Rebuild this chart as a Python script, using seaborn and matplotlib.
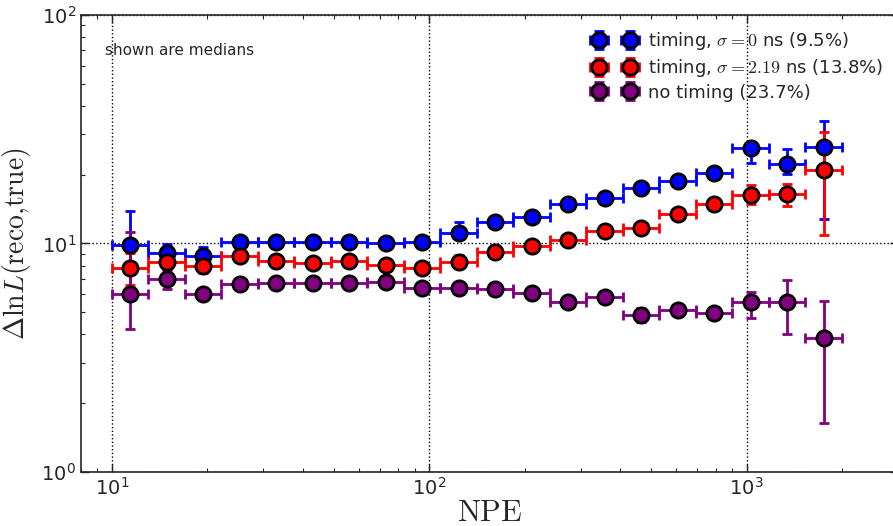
import matplotlib
matplotlib.use("Agg")
import matplotlib.pyplot as plt
import numpy as np
import seaborn as sns

# NPE bins (log spaced, 10 .. 2000)
npe_edges = [10, 13.03, 16.98, 22.13, 28.84, 37.58, 48.98, 63.83, 83.18, 108.4, 141.3,
             184.1, 239.9, 312.7, 407.5, 531.0, 692.0, 901.8, 1175, 1531, 1995]
npe_centers = [11.4, 14.9, 19.4, 25.3, 32.9, 42.9, 55.9, 72.9, 95.0, 123.8,
               161.3, 210.2, 273.9, 357.0, 465.2, 606.2, 790.0, 1029, 1341, 1748]

# timing, sigma = 0 ns
blue_med = [9.8, 9.06, 8.82, 10.1, 10.1, 10.1, 10.15, 10.0, 10.1, 11.1,
            12.4, 13.1, 14.9, 15.8, 17.5, 18.8, 20.3, 26.1, 22.3, 26.4]
blue_lo = [7.8, 8.5, 8.3, 9.8, 9.8, 9.8, 9.85, 9.7, 9.8, 10.6,
           11.8, 12.5, 14.2, 15.2, 16.7, 18.0, 19.5, 22.4, 20.1, 12.8]
blue_hi = [13.9, 9.95, 9.7, 10.4, 10.4, 10.4, 10.45, 10.3, 10.4, 12.4,
           13.0, 13.7, 15.6, 16.4, 18.4, 19.6, 21.1, 27.0, 25.9, 34.5]

# timing, sigma = 2.19 ns
red_med = [7.79, 8.3, 7.94, 8.82, 8.36, 8.22, 8.36, 8.08, 7.84, 8.33,
           9.15, 9.75, 10.36, 11.38, 11.73, 13.4, 14.9, 16.3, 16.4, 21.0]
red_lo = [6.6, 7.6, 7.4, 8.5, 8.1, 7.95, 8.1, 7.8, 7.6, 7.95,
          8.6, 9.4, 10.0, 11.0, 11.3, 12.9, 14.3, 14.9, 14.6, 10.9]
red_hi = [9.1, 9.1, 8.4, 9.2, 8.6, 8.5, 8.6, 8.35, 8.1, 8.9,
          9.8, 10.15, 10.75, 11.8, 12.2, 13.9, 15.6, 18.0, 18.2, 30.7]

# no timing
purple_med = [6.01, 6.97, 6.01, 6.63, 6.69, 6.72, 6.69, 6.78, 6.37, 6.40,
              6.32, 6.06, 5.53, 5.81, 4.86, 5.12, 4.95, 5.53, 5.53, 3.85]
purple_lo = [4.21, 6.3, 5.7, 6.4, 6.45, 6.5, 6.45, 6.55, 6.15, 6.15,
             6.05, 5.75, 5.25, 5.55, 4.55, 4.85, 4.7, 4.71, 4.02, 1.64]
purple_hi = [11.2, 7.7, 6.35, 6.85, 6.9, 6.95, 6.9, 7.0, 6.6, 6.65,
             6.6, 6.35, 5.8, 6.1, 5.2, 5.45, 5.25, 6.15, 6.92, 5.62]

series = [
    (r"timing, $\sigma=0$ ns (9.5%)", "#0000ff", blue_med, blue_lo, blue_hi),
    (r"timing, $\sigma=2.19$ ns (13.8%)", "#ff0000", red_med, red_lo, red_hi),
    ("no timing (23.7%)", "#800080", purple_med, purple_lo, purple_hi),
]

sns.set_style("ticks", {
    "xtick.direction": "in", "ytick.direction": "in",
    "xtick.top": True, "ytick.right": True,
})
plt.rcParams["font.family"] = ["DejaVu Sans"]
plt.rcParams["mathtext.fontset"] = "dejavusans"

fig = plt.figure(figsize=(8.93, 5.26), dpi=100)
ax = fig.add_axes([0.0907, 0.1027, 0.915, 0.8688])

x = np.array(npe_centers)
edges = np.array(npe_edges)
xerr = [x - edges[:-1], edges[1:] - x]

for label, color, med, lo, hi in series:
    med = np.array(med)
    yerr = [med - np.array(lo), np.array(hi) - med]
    ax.errorbar(x, med, xerr=xerr, yerr=yerr, fmt="o", color=color, ecolor=color,
                markerfacecolor=color, markeredgecolor="black", markeredgewidth=2,
                markersize=11, elinewidth=2, capsize=3.5, capthick=2, label=label)

ax.set_xscale("log")
ax.set_yscale("log")
ax.set_xlim(8, 3000)
ax.set_ylim(1, 100)

ax.grid(True, which="major", linestyle=":", color="black", linewidth=1)
ax.tick_params(which="major", length=6, width=1, labelsize=14)
ax.tick_params(which="minor", length=3, width=0.8)
for s in ax.spines.values():
    s.set_linewidth(1.2)

ax.set_xlabel(r"$\mathrm{NPE}$", fontsize=22, math_fontfamily="cm")
ax.xaxis.set_label_coords(0.5, -0.056)
ax.set_ylabel(r"$\Delta \mathrm{ln} L(\mathrm{reco{,}true})$", fontsize=20,
              math_fontfamily="cm", labelpad=6)

ax.text(0.029, 0.923, "shown are medians", transform=ax.transAxes, fontsize=11,
        ha="left", va="center")

leg = ax.legend(loc="upper left", bbox_to_anchor=(0.619, 0.983), frameon=False, numpoints=2,
                fontsize=13, handlelength=2.3, handletextpad=0.7, labelspacing=0.27,
                borderaxespad=0)
for t in leg.get_texts():
    t.set_math_fontfamily("cm")

fig.savefig("out.png", dpi=100)
